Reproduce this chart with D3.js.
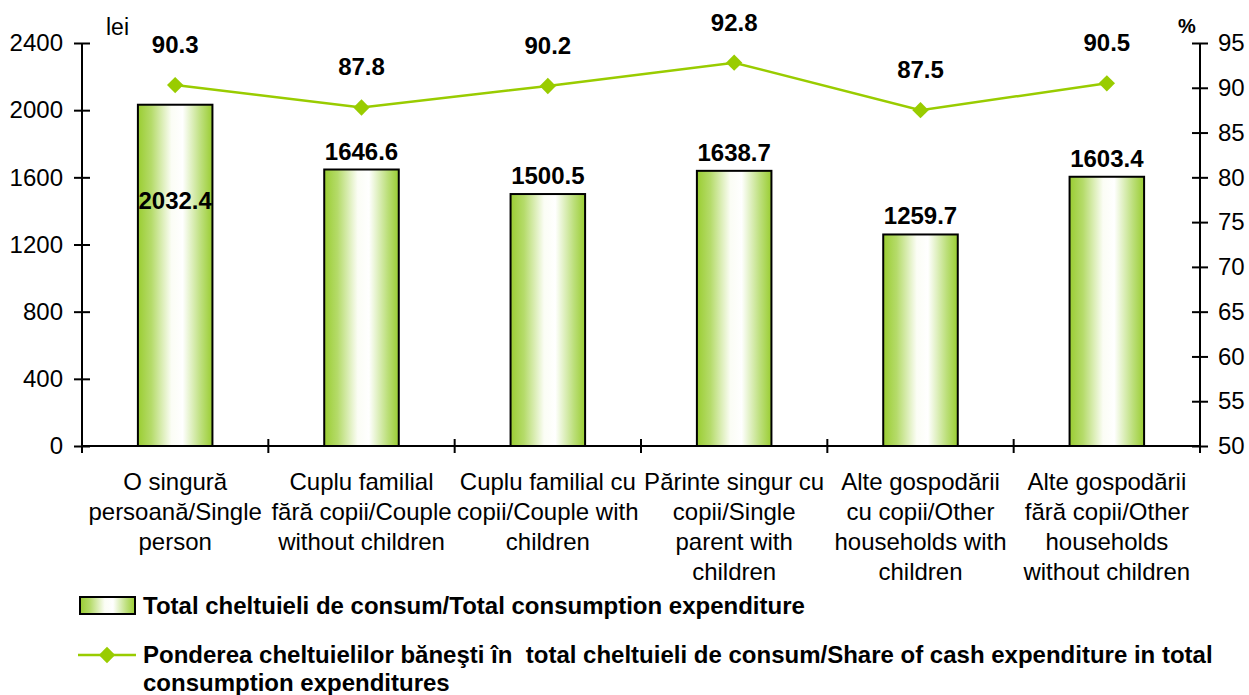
<!DOCTYPE html>
<html>
<head>
<meta charset="utf-8">
<script src="https://cdn.jsdelivr.net/npm/d3@7"></script>
<style>
  body { margin: 0; background: #fff; }
  svg { display: block; font-family: "Liberation Sans", Arial, sans-serif; }
</style>
</head>
<body>
<div id="chart"></div>
<script>
var categories = [
    ["O singură", "persoană/Single", "person"],
    ["Cuplu familial", "fără copii/Couple", "without children"],
    ["Cuplu familial cu", "copii/Couple with", "children"],
    ["Părinte singur cu", "copii/Single", "parent with", "children"],
    ["Alte gospodării", "cu copii/Other", "households with", "children"],
    ["Alte gospodării", "fără copii/Other", "households", "without children"]
];
var expenditure = [2032.4, 1646.6, 1500.5, 1638.7, 1259.7, 1603.4];
var cashShare = [90.3, 87.8, 90.2, 92.8, 87.5, 90.5];
var leftTicks = [0, 400, 800, 1200, 1600, 2000, 2400];
var rightTicks = [50, 55, 60, 65, 70, 75, 80, 85, 90, 95];
var legendBar = "Total cheltuieli de consum/Total consumption expenditure";
var legendLine = ["Ponderea cheltuielilor băneşti în  total cheltuieli de consum/Share of cash expenditure in total",
                  "consumption expenditures"];

var W = 1249, H = 695;
var pLeft = 82, pRight = 1200, pTop = 43, pBottom = 446;
var green = "#99cc00";
var fs = "24px";

var svg = d3.select("#chart").append("svg")
    .attr("width", W)
    .attr("height", H);

var defs = svg.append("defs");
var grad = defs.append("linearGradient")
    .attr("id", "barGrad")
    .attr("x1", "0%").attr("x2", "100%").attr("y1", "0%").attr("y2", "0%");
[[0, "#9acd32"], [0.18, "#b5db6a"], [0.45, "#fbfdf5"], [0.6, "#ffffff"], [0.85, "#bcdf7a"], [1, "#9acd32"]]
    .forEach(function(s){
        grad.append("stop").attr("offset", s[0]).attr("stop-color", s[1]);
    });

var x = d3.scaleBand()
    .domain(d3.range(categories.length))
    .range([pLeft, pRight])
    .paddingInner(0.6)
    .paddingOuter(0.3);

var y = d3.scaleLinear().domain([0, 2400]).range([pBottom, pTop]);
var y2 = d3.scaleLinear().domain([50, 95]).range([pBottom, pTop]);

// axes (ticks cross the axis line, like the original)
var yAxis = d3.axisLeft(y).tickValues(leftTicks).tickFormat(d3.format("d")).tickSize(8).tickPadding(11);
var gy = svg.append("g").attr("transform", "translate(" + pLeft + ",0)").call(yAxis);
gy.selectAll(".tick line").attr("x1", 8);

var y2Axis = d3.axisRight(y2).tickValues(rightTicks).tickFormat(d3.format("d")).tickSize(8).tickPadding(10);
var gy2 = svg.append("g").attr("transform", "translate(" + pRight + ",0)").call(y2Axis);
gy2.selectAll(".tick line").attr("x1", -8);

[gy, gy2].forEach(function(g){
    g.attr("font-family", null).attr("font-size", null);
    g.selectAll(".domain").attr("stroke", "#000").attr("stroke-width", 2).attr("d", function(){
        return "M0," + pTop + "V" + pBottom;
    });
    g.selectAll(".tick line").attr("stroke", "#000").attr("stroke-width", 2);
    g.selectAll(".tick text").attr("fill", "#000").style("font-size", fs);
});

// bottom axis with category boundary ticks
var step = (pRight - pLeft) / categories.length;
var gx = svg.append("g");
gx.append("line")
    .attr("x1", pLeft).attr("x2", pRight)
    .attr("y1", pBottom).attr("y2", pBottom)
    .attr("stroke", "#000").attr("stroke-width", 2);
gx.selectAll("line.tk")
    .data(d3.range(categories.length + 1))
    .enter().append("line")
    .attr("class", "tk")
    .attr("x1", function(i){ return pLeft + i * step; })
    .attr("x2", function(i){ return pLeft + i * step; })
    .attr("y1", pBottom - 7).attr("y2", pBottom + 7)
    .attr("stroke", "#000").attr("stroke-width", 2);

var cat = svg.selectAll("text.cat")
    .data(categories)
    .enter().append("text")
    .attr("class", "cat")
    .attr("text-anchor", "middle")
    .style("font-size", fs)
    .attr("transform", function(d, i){
        return "translate(" + (x(i) + x.bandwidth() / 2) + "," + (pBottom + 44) + ")";
    });
cat.selectAll("tspan")
    .data(function(d){ return d; })
    .enter().append("tspan")
    .attr("x", 0)
    .attr("y", function(d, i){ return i * 30; })
    .text(function(d){ return d; });

// unit labels
svg.append("text").attr("x", 106).attr("y", 35).style("font-size", "23px").text("lei");
svg.append("text").attr("x", 1178).attr("y", 33).style("font-size", "20px").style("font-weight", "bold").text("%");

// bars
svg.selectAll("rect.bar")
    .data(expenditure)
    .enter().append("rect")
    .attr("class", "bar")
    .attr("x", function(d, i){ return x(i); })
    .attr("y", function(d){ return y(d); })
    .attr("width", x.bandwidth())
    .attr("height", function(d){ return pBottom - y(d); })
    .attr("fill", "url(#barGrad)")
    .attr("stroke", "#000")
    .attr("stroke-width", 2);

svg.selectAll("text.barlbl")
    .data(expenditure)
    .enter().append("text")
    .attr("class", "barlbl")
    .attr("text-anchor", "middle")
    .attr("x", function(d, i){ return x(i) + x.bandwidth() / 2; })
    // first label sits inside the bar, below the line label
    .attr("y", function(d, i){ return i === 0 ? y(d) + 104 : y(d) - 10; })
    .style("font-size", fs)
    .style("font-weight", "bold")
    .text(function(d){ return d.toFixed(1); });

// line
var cx = function(i){ return x(i) + x.bandwidth() / 2; };
var line = d3.line()
    .x(function(d, i){ return cx(i); })
    .y(function(d){ return y2(d); });

svg.append("path")
    .datum(cashShare)
    .attr("d", line)
    .attr("fill", "none")
    .attr("stroke", green)
    .attr("stroke-width", 2.5);

var diamond = d3.symbol().type(d3.symbolDiamond2).size(170);
svg.selectAll("path.mk")
    .data(cashShare)
    .enter().append("path")
    .attr("class", "mk")
    .attr("d", diamond)
    .attr("transform", function(d, i){ return "translate(" + cx(i) + "," + y2(d) + ")"; })
    .attr("fill", green);

svg.selectAll("text.linelbl")
    .data(cashShare)
    .enter().append("text")
    .attr("class", "linelbl")
    .attr("text-anchor", "middle")
    .attr("x", function(d, i){ return cx(i); })
    .attr("y", function(d){ return y2(d) - 32; })
    .style("font-size", fs)
    .style("font-weight", "bold")
    .text(function(d){ return d.toFixed(1); });

// legend
var lg = svg.append("g");
lg.append("rect")
    .attr("x", 80).attr("y", 597).attr("width", 55).attr("height", 17)
    .attr("fill", "url(#barGrad)").attr("stroke", "#000").attr("stroke-width", 2);
lg.append("text")
    .attr("x", 143).attr("y", 614)
    .style("font-size", fs).style("font-weight", "bold")
    .text(legendBar);

lg.append("line")
    .attr("x1", 78).attr("x2", 136).attr("y1", 655).attr("y2", 655)
    .attr("stroke", green).attr("stroke-width", 2.5);
lg.append("path")
    .attr("d", diamond)
    .attr("transform", "translate(107,655)")
    .attr("fill", green);
var lt = lg.append("text")
    .attr("x", 143).attr("y", 663)
    .style("font-size", fs).style("font-weight", "bold")
    .style("white-space", "pre");
lt.selectAll("tspan")
    .data(legendLine)
    .enter().append("tspan")
    .attr("x", 143)
    .attr("dy", function(d, i){ return i === 0 ? 0 : 28; })
    .text(function(d){ return d; });
</script>
</body>
</html>
